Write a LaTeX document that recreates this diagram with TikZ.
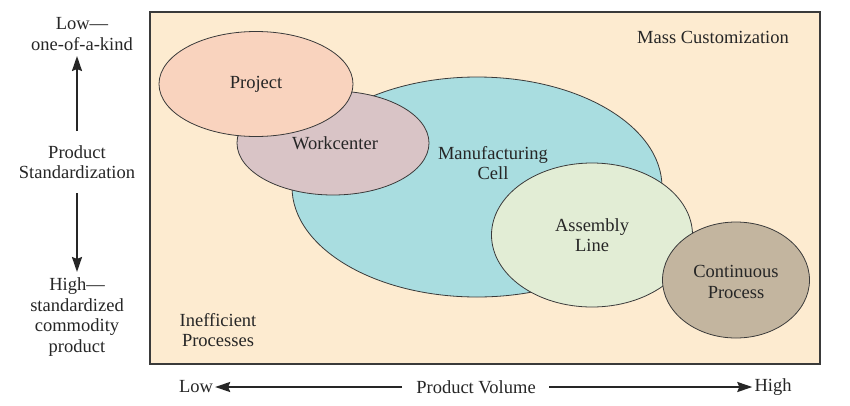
\documentclass[tikz,border=0pt]{standalone}
\usepackage{fontspec}
\setmainfont{Liberation Serif}
\usetikzlibrary{shapes.geometric,arrows.meta}
\definecolor{bgc}{HTML}{FDEBD0}
\definecolor{projc}{HTML}{F9D3BE}
\definecolor{workc}{HTML}{D9C4C6}
\definecolor{mfgc}{HTML}{A9DDE0}
\definecolor{asmc}{HTML}{E2EDD5}
\definecolor{contc}{HTML}{C3B59F}
\definecolor{linec}{HTML}{3A3A3A}
\begin{document}
\begin{tikzpicture}[x=1pt,y=-1pt,
  lbl/.style={font=\fontsize{18.5}{20.5}\selectfont, align=center, text=black!85, inner sep=0pt},
  ell/.style={ellipse, draw=linec, line width=0.8pt, inner sep=0pt},
  bigarrow/.style={line width=2pt, -{Stealth[length=15pt,width=10pt,inset=2pt]}, draw=black!85}]
\useasboundingbox (0,0) rectangle (850,405);
\fill[white] (0,0) rectangle (850,405);
\node[draw=linec, fill=bgc, line width=1.2pt, minimum width=670pt, minimum height=352pt, inner sep=0pt] (box) at (485,188) {};
% ellipses
\node[ell, fill=mfgc, minimum width=370pt, minimum height=220pt] (mfg) at (477,187) {};
\node[ell, fill=workc, minimum width=192pt, minimum height=104pt] (work) at (333,143) {};
\node[ell, fill=projc, minimum width=194pt, minimum height=105pt] (proj) at (256,84) {};
\node[ell, fill=asmc, minimum width=201pt, minimum height=144pt] (asm) at (592,235) {};
\node[ell, fill=contc, minimum width=147pt, minimum height=116pt] (cont) at (736,280) {};
% labels
\node[lbl] (tproj) at (256,84) {Project};
\node[lbl] (twork) at (335,143) {Workcenter};
\node[lbl] (tmfg) at (493,163) {Manufacturing\\Cell};
\node[lbl] (tasm) at (592,235) {Assembly\\Line};
\node[lbl] (tcont) at (736,282) {Continuous\\Process};
\node[lbl] (tmass) at (713,37) {Mass Customization};
\node[lbl] (tineff) at (218,330) {Inefficient\\Processes};
% left axis
\node[lbl] (tlow) at (82,34) {Low---\\one-of-a-kind};
\node[lbl] (tstd) at (77,162) {Product\\Standardization};
\node[lbl] (thigh) at (77,317) {High---\\standardized\\commodity\\product};
\coordinate (utop) at (77,56);
\coordinate (ubot) at (77,131);
\coordinate (dtop) at (77,193);
\coordinate (dbot) at (77,272);
\draw[bigarrow] (ubot) -- (utop);
\draw[bigarrow] (dtop) -- (dbot);
% bottom axis
\node[lbl] (blow) at (196,387) {Low};
\node[lbl] (bvol) at (476,387) {Product Volume};
\node[lbl] (bhigh) at (773,387) {High};
\coordinate (la) at (402,387);
\coordinate (ra) at (549,387);
\draw[bigarrow, shorten >=2pt] (la) -- (blow.east);
\draw[bigarrow, shorten >=2pt] (ra) -- (bhigh.west);
\end{tikzpicture}
\end{document}
